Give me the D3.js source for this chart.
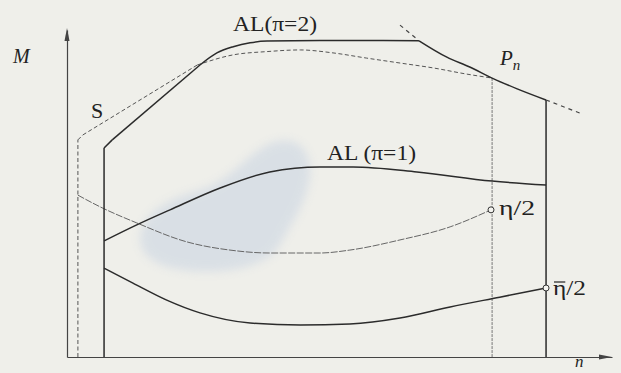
<!DOCTYPE html>
<html>
<head>
<meta charset="utf-8">
<script src="https://cdn.jsdelivr.net/npm/d3@7"></script>
<style>
  body { margin: 0; background: #efefea; }
  svg { display: block; }
  text { font-family: "Liberation Serif", "DejaVu Serif", serif; fill: #222; }
</style>
</head>
<body>
<div id="chart"></div>
<script>
// curves, as [n, M] in arbitrary units (0..100)
var sCurve = [[2.0,0],[2.0,66.4],[2.9,67.9],[23.9,89.3],[30.5,92.4],[36.7,93.4],[42.8,93.9],
  [48.8,93.0],[55.0,91.4],[61.1,89.9],[67.2,88.4],[73.4,86.5],[78.0,85.3]];
var alPi2 = [[6.8,0],[6.8,63.9],[8.3,66.4],[24.4,89.3],[27.5,93.0],[30.5,94.9],[33.6,96.1],
  [36.7,96.6],[46.4,96.8],[64.6,96.7],[69.7,91.7],[73.9,88.7],[78.0,85.3],[82.6,82.0],[87.9,78.6],[87.9,0]];
var tangentTop = [[61.1,101.5],[64.6,96.7]];
var tangentRight = [[87.9,78.6],[94.1,74.6]];
var pnLine = [[78.0,85.3],[78.0,0]];
var alPi1 = [[6.8,35.5],[12.8,40.4],[18.9,45.0],[28.1,51.7],[37.2,56.6],[46.4,58.1],[52.5,58.1],
  [64.2,56.6],[78.0,53.8],[87.9,52.6]];
var etaHalf = [[2.0,49.5],[6.1,45.9],[12.8,41.0],[22.0,35.2],[29.9,32.7],[37.2,31.8],[46.4,31.8],
  [51.9,32.7],[61.1,35.8],[70.3,39.8],[77.8,45.0]];
var etaBarHalf = [[6.8,27.2],[12.1,22.6],[18.3,17.4],[24.4,13.5],[33.6,10.4],[42.8,9.8],[51.9,10.1],
  [61.1,11.9],[70.3,15.3],[79.4,18.3],[87.9,21.1]];

var width = 621, height = 373;

var svg = d3.select("#chart").append("svg")
  .attr("width", width)
  .attr("height", height);

svg.append("rect").attr("width", width).attr("height", height).attr("fill", "#efefea");

var x = d3.scaleLinear().domain([0, 100]).range([67, 612]);
var y = d3.scaleLinear().domain([0, 100]).range([357, 30]);

// scan smudge
var defs = svg.append("defs");
defs.append("filter").attr("id", "blur")
  .attr("x", "-20%").attr("y", "-20%").attr("width", "140%").attr("height", "140%")
  .append("feGaussianBlur").attr("stdDeviation", 5);
svg.append("path")
  .attr("d", "M140,238 C142,214 165,200 200,190 C228,182 242,160 265,146 C288,134 308,142 310,167 "
    + "C312,195 292,222 280,245 C268,266 230,274 190,271 C160,268 140,258 140,238 Z")
  .attr("fill", "#c0cde0")
  .attr("opacity", 0.45)
  .attr("filter", "url(#blur)");

// axes
var xAxis = d3.axisBottom(x).ticks(0).tickSizeOuter(0);
var yAxis = d3.axisLeft(y).ticks(0).tickSizeOuter(0);
svg.append("g").attr("transform", "translate(0," + y(0) + ")").call(xAxis)
  .select(".domain").attr("stroke", "#444").attr("stroke-width", 1.2);
svg.append("g").attr("transform", "translate(" + x(0) + ",0)").call(yAxis)
  .select(".domain").attr("stroke", "#444").attr("stroke-width", 1.2);

// arrow heads
svg.append("path")
  .attr("d", "M" + x(100) + "," + y(0) + " l-13,-2.5 l0,5 z")
  .attr("fill", "#444");
svg.append("path")
  .attr("d", "M" + x(0) + "," + (y(100) - 2) + " l-2.5,13 l5,0 z")
  .attr("fill", "#444");

var smooth = d3.line()
  .x(function(d){ return x(d[0]); })
  .y(function(d){ return y(d[1]); })
  .curve(d3.curveMonotoneX);
var straight = d3.line()
  .x(function(d){ return x(d[0]); })
  .y(function(d){ return y(d[1]); });

// breaks = indices where a piece ends and the next starts; 2-point pieces are straight
function draw(data, breaks, stroke, w, dash) {
  breaks = breaks || [0, data.length - 1];
  for (var i = 0; i < breaks.length - 1; i++) {
    var piece = data.slice(breaks[i], breaks[i + 1] + 1);
    svg.append("path")
      .attr("d", (piece.length > 2 ? smooth : straight)(piece))
      .attr("fill", "none")
      .attr("stroke", stroke)
      .attr("stroke-width", w)
      .attr("stroke-linejoin", "round")
      .attr("stroke-dasharray", dash || null);
  }
}

draw(pnLine, null, "#777", 1, "3,1");
draw(sCurve, [0, 1, 2, 3, 12], "#555", 1, "4,2.5");
draw(etaHalf, null, "#666", 1, "7,1.5");
draw(alPi2, [0, 1, 2, 3, 9, 14, 15], "#2b2b2b", 1.5);
draw(tangentTop, null, "#444", 1.2, "4,4");
draw(tangentRight, null, "#444", 1.2, "4,4");
draw(alPi1, null, "#2b2b2b", 1.5);
draw(etaBarHalf, null, "#2b2b2b", 1.5);

// end markers
[etaHalf[etaHalf.length - 1], etaBarHalf[etaBarHalf.length - 1]].forEach(function(d){
  svg.append("circle")
    .attr("cx", x(d[0])).attr("cy", y(d[1])).attr("r", 3)
    .attr("fill", "#f4f4f0").attr("stroke", "#333").attr("stroke-width", 1);
});

// labels
function label(tx, ty, s, size, len, italic) {
  var t = svg.append("text")
    .attr("x", tx).attr("y", ty)
    .attr("font-size", size)
    .text(s);
  if (len) t.attr("textLength", len).attr("lengthAdjust", "spacingAndGlyphs");
  if (italic) t.attr("font-style", "italic");
  return t;
}

label(13, 63, "M", 20, null, true);
label(91, 118, "S", 22);
label(233, 31, "AL(\u03c0=2)", 21, 84);
label(327, 160, "AL (\u03c0=1)", 21, 89);

var pn = label(500, 65, "P", 21, null, true);
pn.append("tspan").attr("font-size", 15).attr("dy", 5).text("n");

label(499, 215, "\u03b7/2", 20, 36);
var eb = label(553, 295, "\u03b7/2", 20, 33);
var etaW = eb.node().getSubStringLength(0, 1);
svg.append("line")
  .attr("x1", 554).attr("x2", 553 + etaW - 1)
  .attr("y1", 282).attr("y2", 282)
  .attr("stroke", "#222").attr("stroke-width", 1.2);

label(575, 367, "n", 17, null, true);
</script>
</body>
</html>
